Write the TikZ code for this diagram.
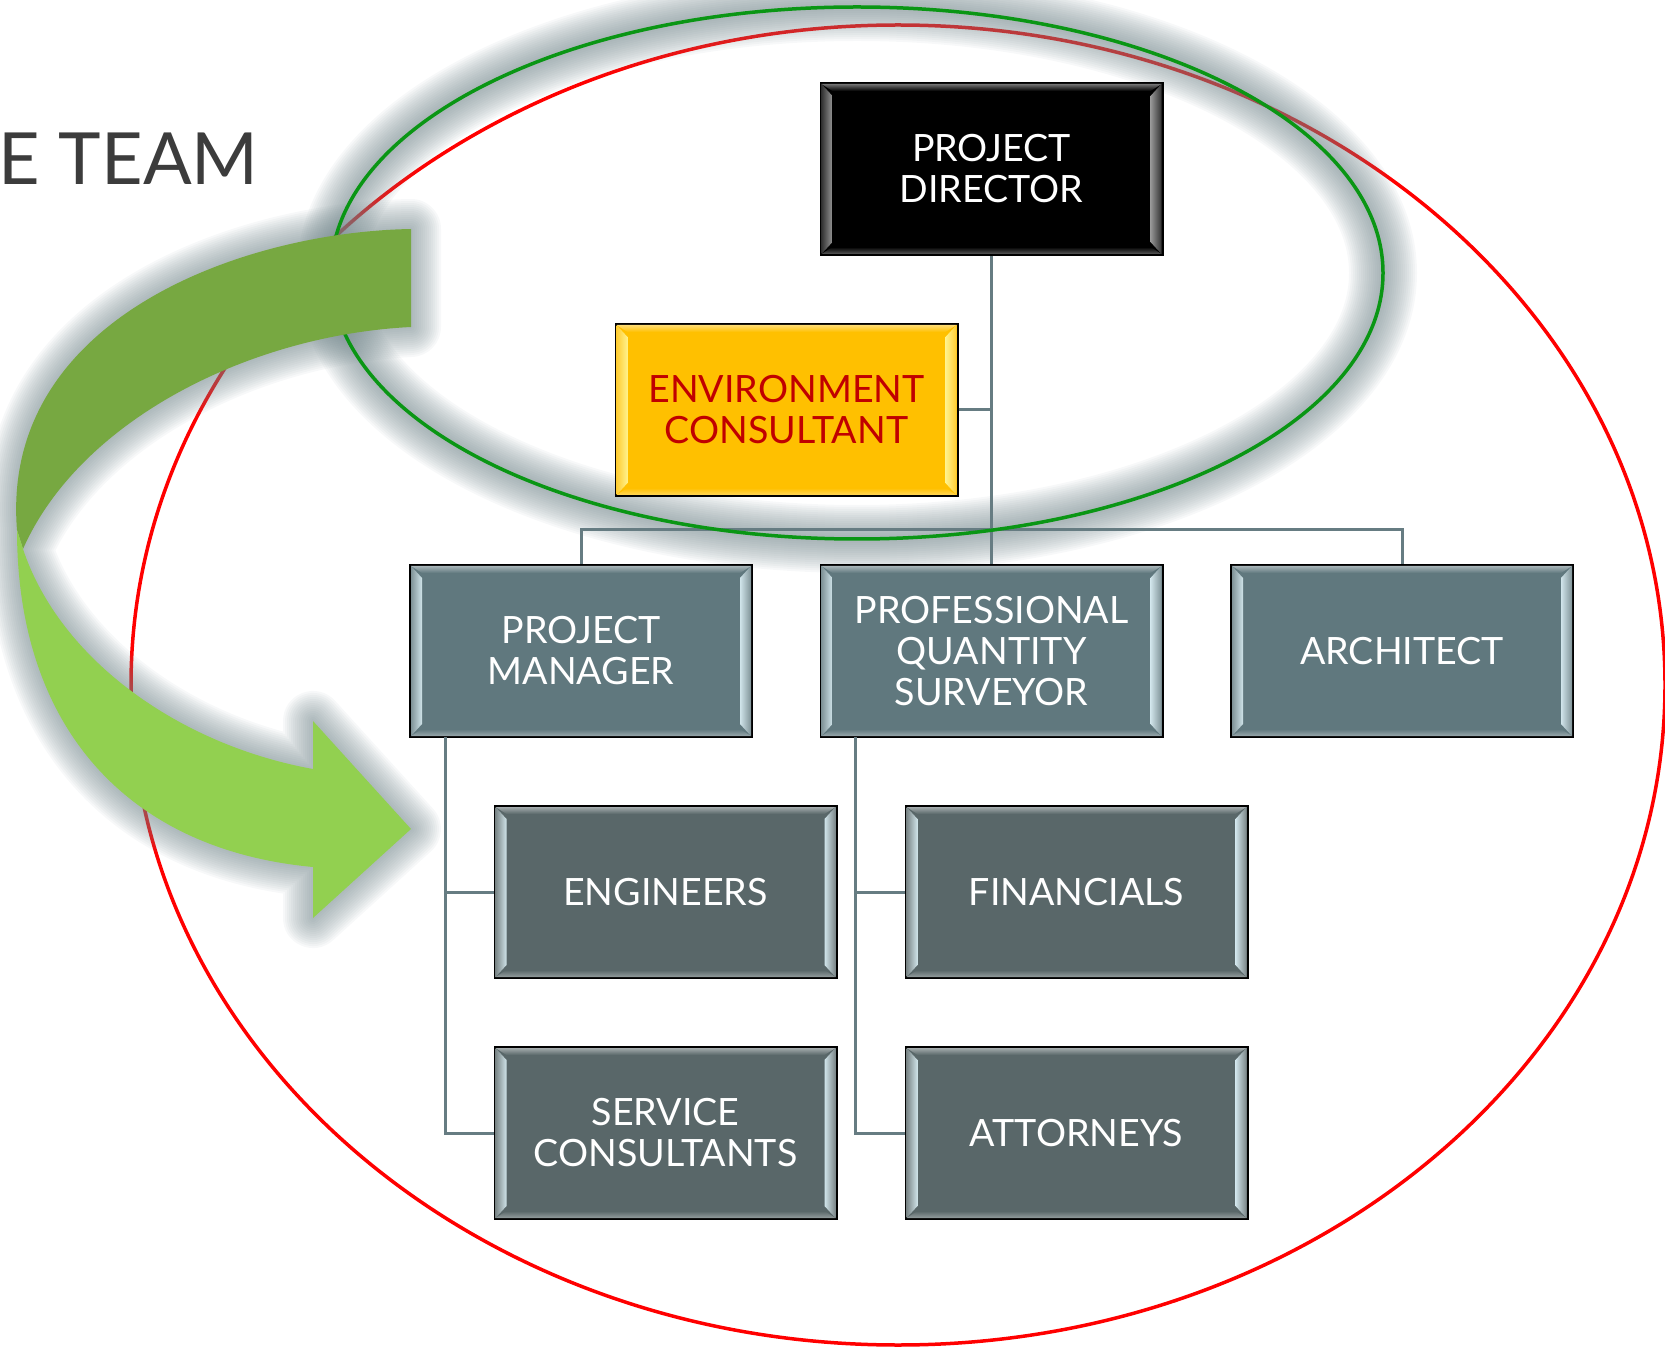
\documentclass[tikz,border=0pt]{standalone}
\usepackage{fontspec}
\newfontfamily\boxfont{Lato}
\usetikzlibrary{calc}
\definecolor{lvtwo}{RGB}{96,120,126}
\definecolor{lvthree}{RGB}{89,103,105}
\definecolor{lvhl}{RGB}{208,228,234}
\definecolor{envfill}{RGB}{255,192,0}
\definecolor{envhl}{RGB}{255,242,140}
\definecolor{envtext}{RGB}{192,0,0}
\definecolor{dirhl}{RGB}{150,150,150}
\definecolor{conn}{RGB}{102,124,130}
\definecolor{ringgreen}{RGB}{10,150,20}
\definecolor{ringred}{RGB}{255,0,0}
\definecolor{glowc}{RGB}{115,135,140}
\definecolor{arrdark}{RGB}{119,168,65}
\definecolor{arrlight}{RGB}{146,208,80}
\definecolor{titlegray}{RGB}{60,60,60}
\tikzset{
  orgbox/.style={draw=black, line width=1pt, minimum width=171pt, minimum height=86pt,
    inner sep=0pt, align=center, font=\boxfont\fontsize{18.8pt}{20.5pt}\selectfont},
  link/.style={draw=conn, line width=1.5pt},
  glowline/.style={draw=glowc, opacity=0.055, line join=round},
}
\newcommand\orgnode[6]{%
  \node[orgbox, fill=#3, text=#6] (#1) at (#2) {#5};
  \shade[left color=#3!80!white, right color=#4]
    ($(#1.north west)+(1pt,-1pt)$) -- ($(#1.north west)+(6.5pt,-7pt)$) --
    ($(#1.south west)+(6.5pt,7pt)$) -- ($(#1.south west)+(1pt,1pt)$) -- cycle;
  \shade[left color=#4, right color=#3!80!white]
    ($(#1.north east)+(-1pt,-1pt)$) -- ($(#1.north east)+(-6.5pt,-7pt)$) --
    ($(#1.south east)+(-6.5pt,7pt)$) -- ($(#1.south east)+(-1pt,1pt)$) -- cycle;
  \shade[top color=#3!55!white, bottom color=#3]
    ($(#1.north west)+(1pt,-1pt)$) -- ($(#1.north east)+(-1pt,-1pt)$) --
    ($(#1.north east)+(-6.5pt,-4.5pt)$) -- ($(#1.north west)+(6.5pt,-4.5pt)$) -- cycle;
  \shade[top color=#3, bottom color=#3!65!white]
    ($(#1.south west)+(6.5pt,4.5pt)$) -- ($(#1.south east)+(-6.5pt,4.5pt)$) --
    ($(#1.south east)+(-1pt,1pt)$) -- ($(#1.south west)+(1pt,1pt)$) -- cycle;
}
\def\arrowoutline{(411,229) .. controls (240,232) and (0,320) .. (17,530)
  .. controls (17,730) and (130,850) .. (313,867) -- (313,918) -- (411,829)
  -- (313,721) -- (313,769) .. controls (180,745) and (60,660) .. (23,549)
  .. controls (80,420) and (250,335) .. (411,327) -- cycle}
\begin{document}
\begin{tikzpicture}[x=0.5pt, y=-0.5pt]
\useasboundingbox (0,0) rectangle (1665,1347);
\clip (0,0) rectangle (1665,1347);
% red ring
\draw[ringred, line width=1.75pt] (898,685) ellipse [x radius=383.5pt, y radius=330pt];
% glows
\foreach \w in {2,4,...,34}
  \draw[glowline, line width=\w pt] (857,273) ellipse [x radius=263pt, y radius=133pt];
\foreach \w in {2,4,...,30}
  \draw[glowline, line width=\w pt] \arrowoutline;
% boxes
\orgnode{dir}{991.5,169}{black}{dirhl}{PROJECT\\DIRECTOR}{white}
\orgnode{env}{786.5,410}{envfill}{envhl}{ENVIRONMENT\\CONSULTANT}{envtext}
\orgnode{pm}{581,651}{lvtwo}{lvhl}{PROJECT\\MANAGER}{white}
\orgnode{pqs}{991.5,651}{lvtwo}{lvhl}{PROFESSIONAL\\QUANTITY\\SURVEYOR}{white}
\orgnode{arch}{1402,651}{lvtwo}{lvhl}{ARCHITECT}{white}
\orgnode{eng}{665.5,892}{lvthree}{lvhl}{ENGINEERS}{white}
\orgnode{fin}{1076.5,892}{lvthree}{lvhl}{FINANCIALS}{white}
\orgnode{svc}{665.5,1133}{lvthree}{lvhl}{SERVICE\\CONSULTANTS}{white}
\orgnode{att}{1076.5,1133}{lvthree}{lvhl}{ATTORNEYS}{white}
% connectors
\coordinate (busL) at (581,530);
\coordinate (busR) at (1402,530);
\coordinate (pmv) at (445,737);
\coordinate (pqsv) at (855,737);
\draw[link] (dir.south) -- (pqs.north);
\draw[link] (env.east) -- (env.east -| dir.south);
\draw[link] (pm.north) -- (busL) -- (busR) -- (arch.north);
\draw[link] (pmv) |- (eng.west);
\draw[link] (pmv) |- (svc.west);
\draw[link] (pqsv) |- (fin.west);
\draw[link] (pqsv) |- (att.west);
% green ring
\draw[ringgreen, line width=1.75pt] (857,273) ellipse [x radius=263pt, y radius=133pt];
% curved arrow
\fill[arrdark] (411,229) .. controls (240,232) and (0,320) .. (17,530) -- (23,549)
  .. controls (80,420) and (250,335) .. (411,327) -- cycle;
\fill[arrlight] (17,530) .. controls (17,730) and (130,850) .. (313,867) -- (313,918)
  -- (411,829) -- (313,721) -- (313,769) .. controls (180,745) and (60,660) .. (23,549) -- cycle;
% title fragment
\node[anchor=base east, inner sep=0pt, text=titlegray, font=\boxfont\fontsize{36pt}{40pt}\selectfont] (title) at (259,185) {E TEAM};
\end{tikzpicture}
\end{document}
